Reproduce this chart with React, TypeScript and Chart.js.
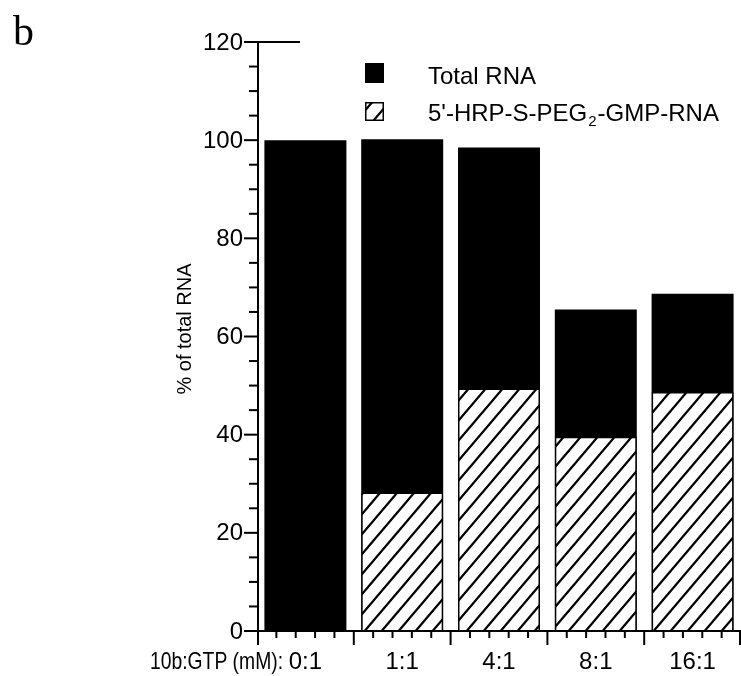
import { useEffect, useRef } from "react";
import { Chart, registerables } from "chart.js";

Chart.register(...registerables);

// ---- data ----
const categories = ["0:1", "1:1", "4:1", "8:1", "16:1"];
const totalRNA = [100, 100.2, 98.5, 65.5, 68.7];
const conjugateRNA = [0, 28.2, 49.4, 39.6, 48.7];
const yTickValues = [0, 20, 40, 60, 80, 100, 120];
const totalLabel = "Total RNA";
const conjugateLabelParts = ["5'-HRP-S-PEG", "2", "-GMP-RNA"];
const xAxisTitle = "10b:GTP (mM):";
const yAxisTitle = "% of total RNA";
const panelLetter = "b";

const SANS = '"Liberation Sans", Arial, Helvetica, sans-serif';
const SERIF = '"Liberation Serif", "Times New Roman", serif';

function makeHatch(): CanvasPattern | string {
  const w = 17;
  const h = 20;
  const c = document.createElement("canvas");
  c.width = w;
  c.height = h;
  const g = c.getContext("2d");
  if (!g) return "#fff";
  g.fillStyle = "#fff";
  g.fillRect(0, 0, w, h);
  g.strokeStyle = "#000";
  g.lineWidth = 2.2;
  g.beginPath();
  g.moveTo(0, h);
  g.lineTo(w, 0);
  g.moveTo(-w * 0.25, h * 0.25);
  g.lineTo(w * 0.25, -h * 0.25);
  g.moveTo(w * 0.75, h * 1.25);
  g.lineTo(w * 1.25, h * 0.75);
  g.stroke();
  const p = g.createPattern(c, "repeat");
  return p || "#fff";
}

export default function App() {
  const ref = useRef<HTMLCanvasElement | null>(null);

  useEffect(() => {
    const canvas = ref.current;
    if (!canvas) return;
    const hatch = makeHatch();

    const decor = {
      id: "decor",
      beforeDraw(chart: any) {
        const ctx = chart.ctx;
        ctx.save();
        ctx.fillStyle = "#fff";
        ctx.fillRect(0, 0, chart.width, chart.height);
        ctx.restore();
      },
      afterDatasetsDraw(chart: any) {
        const ctx: CanvasRenderingContext2D = chart.ctx;
        const area = chart.chartArea;
        const xs = chart.scales.x;
        const ys = chart.scales.y;
        const axisX = area.left + 1;
        const y0 = ys.getPixelForValue(0);
        const yTop = ys.getPixelForValue(120);

        ctx.save();
        ctx.strokeStyle = "#000";
        ctx.lineWidth = 2;
        ctx.lineCap = "butt";
        const line = (x1: number, y1: number, x2: number, y2: number) => {
          ctx.beginPath();
          ctx.moveTo(x1, y1);
          ctx.lineTo(x2, y2);
          ctx.stroke();
        };

        // y axis (extends below the x axis as the first boundary tick)
        line(axisX, yTop, axisX, y0 + 14);
        // y ticks
        for (let v = 0; v <= 120; v += 5) {
          const py = ys.getPixelForValue(v);
          const len = v % 20 === 0 ? 14 : 9;
          line(axisX - len, py, axisX, py);
        }
        // top line at 120
        line(axisX - 14, yTop, axisX + 42, yTop);

        // x axis
        line(axisX, y0, area.right, y0);
        const step = xs.getPixelForValue(1) - xs.getPixelForValue(0);
        for (let i = 0; i < categories.length; i++) {
          const start = xs.getPixelForValue(i) - step / 2;
          for (let j = 0; j < 5; j++) {
            const px = start + (step * j) / 5;
            if (i === 0 && j === 0) continue;
            const len = j === 0 ? 14 : 7;
            line(px, y0, px, y0 + len);
          }
        }
        const endX = xs.getPixelForValue(categories.length - 1) + step / 2 - 1;
        line(endX, y0, endX, y0 + 14);

        // y tick labels
        ctx.fillStyle = "#000";
        ctx.font = `24px ${SANS}`;
        ctx.textAlign = "right";
        ctx.textBaseline = "middle";
        for (const v of yTickValues) {
          ctx.fillText(String(v), axisX - 15, ys.getPixelForValue(v) + 1);
        }

        // x category labels
        ctx.textAlign = "center";
        ctx.textBaseline = "alphabetic";
        categories.forEach((c, i) => {
          ctx.fillText(c, xs.getPixelForValue(i), 669);
        });

        // x axis title (to the left of first label)
        ctx.save();
        ctx.font = `24px ${SANS}`;
        const tw = ctx.measureText(xAxisTitle).width;
        const target = 133;
        ctx.translate(283, 669);
        ctx.scale(target / tw, 1);
        ctx.textAlign = "right";
        ctx.fillText(xAxisTitle, 0, 0);
        ctx.restore();

        // y axis title
        ctx.save();
        ctx.translate(191, 329);
        ctx.rotate(-Math.PI / 2);
        ctx.font = `20px ${SANS}`;
        ctx.textAlign = "center";
        ctx.textBaseline = "alphabetic";
        ctx.fillText(yAxisTitle, 0, 0);
        ctx.restore();

        // legend
        ctx.fillStyle = "#000";
        ctx.fillRect(365, 63, 19, 20);
        ctx.font = `24px ${SANS}`;
        ctx.textAlign = "left";
        ctx.textBaseline = "alphabetic";
        ctx.fillText(totalLabel, 428, 84);

        ctx.fillStyle = hatch as any;
        ctx.fillRect(365, 102, 19, 19);
        ctx.lineWidth = 1.5;
        ctx.strokeRect(365.75, 102.75, 17.5, 17.5);

        ctx.fillStyle = "#000";
        let tx = 428;
        const base2 = 121;
        ctx.font = `24px ${SANS}`;
        ctx.fillText(conjugateLabelParts[0], tx, base2);
        tx += ctx.measureText(conjugateLabelParts[0]).width + 1;
        ctx.font = `15px ${SANS}`;
        ctx.fillText(conjugateLabelParts[1], tx, base2 + 5);
        tx += ctx.measureText(conjugateLabelParts[1]).width + 1;
        ctx.font = `24px ${SANS}`;
        ctx.fillText(conjugateLabelParts[2], tx, base2);

        // panel letter
        ctx.font = `42px ${SERIF}`;
        ctx.fillText(panelLetter, 13, 45);

        ctx.restore();
      },
    };

    const barPct = 0.847;
    const chart = new Chart(canvas, {
      type: "bar",
      data: {
        labels: categories,
        datasets: [
          {
            label: totalLabel,
            data: totalRNA,
            backgroundColor: "#000",
            borderWidth: 0,
            order: 2,
            grouped: false,
            barPercentage: barPct,
            categoryPercentage: 1,
          } as any,
          {
            label: conjugateLabelParts.join(""),
            data: conjugateRNA,
            backgroundColor: hatch as any,
            borderColor: "#000",
            borderWidth: 1.5,
            order: 1,
            grouped: false,
            barPercentage: barPct,
            categoryPercentage: 1,
          } as any,
        ],
      },
      options: {
        responsive: false,
        animation: false,
        events: [],
        layout: { padding: { left: 257, right: 0, top: 42, bottom: 45 } },
        scales: {
          x: { display: false },
          y: { display: false, min: 0, max: 120 },
        },
        plugins: {
          legend: { display: false },
          tooltip: { enabled: false },
        },
      },
      plugins: [decor],
    });

    return () => {
      chart.destroy();
    };
  }, []);

  return (
    <div
      style={{
        position: "fixed",
        left: 0,
        top: 0,
        width: 741,
        height: 676,
        background: "#fff",
        overflow: "hidden",
      }}
    >
      <canvas ref={ref} width={741} height={676} style={{ width: 741, height: 676, display: "block" }} />
    </div>
  );
}
